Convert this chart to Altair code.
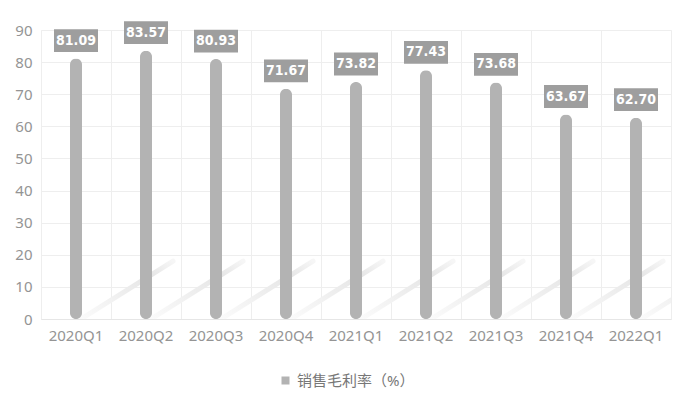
import altair as alt
import pandas as pd

quarters = ["2020Q1", "2020Q2", "2020Q3", "2020Q4", "2021Q1", "2021Q2", "2021Q3", "2021Q4", "2022Q1"]
margins = [81.09, 83.57, 80.93, 71.67, 73.82, 77.43, 73.68, 63.67, 62.70]
series_name = "销售毛利率（%）"
y_ticks = [0, 10, 20, 30, 40, 50, 60, 70, 80, 90]
shadow_top = 18

df = pd.DataFrame({
    "q": quarters,
    "v": margins,
    "label": [f"{m:.2f}" for m in margins],
    "s": [series_name] * len(quarters),
    "z": [0] * len(quarters),
    "st": [shadow_top] * len(quarters),
})

FONT = "Noto Sans, Noto Sans CJK SC"
x_enc = alt.X("q:N", sort=quarters, title=None,
              scale=alt.Scale(paddingInner=0, paddingOuter=0),
              axis=alt.Axis(labelAngle=0, labelColor="#949494", labelFontSize=15, labelFont=FONT,
                            labelPadding=9, ticks=False, domainColor="#e6e6e6",
                            grid=True, gridColor="#eeeeee", bandPosition=0))
y_scale = alt.Scale(domain=[0, 90], nice=False)
y_axis = alt.Axis(values=y_ticks, labelColor="#949494", labelFontSize=15, labelFont=FONT,
                  labelPadding=9, ticks=False, domain=False, labelOverlap=False,
                  grid=True, gridColor="#eeeeee")
y_enc = alt.Y("v:Q", title=None, scale=y_scale, axis=y_axis)

base = alt.Chart(df)

shadow = base.mark_rule(
    strokeWidth=5, strokeCap="round", clip=True, xOffset=5, x2Offset=97,
    stroke=alt.Gradient(gradient="linear", x1=0, y1=1, x2=1, y2=0,
                        stops=[alt.GradientStop(offset=0, color="#fbfbfb"),
                               alt.GradientStop(offset=0.75, color="#e6e6e6"),
                               alt.GradientStop(offset=1, color="#f6f6f6")]),
).encode(
    x=x_enc, x2="q:N",
    y=alt.Y("z:Q", title=None, scale=y_scale, axis=y_axis), y2="st:Q",
)

bars = base.mark_bar(size=12, cornerRadius=6).encode(
    x=x_enc, y=y_enc,
    color=alt.Color("s:N", title=None, scale=alt.Scale(range=["#b3b3b3"]),
                    legend=alt.Legend(orient="none", legendX=237, legendY=343,
                                      symbolType="square", symbolSize=64, symbolStrokeWidth=0,
                                      labelFontSize=15, labelFont=FONT, labelColor="#777777")),
)

box_shape = "M-1,-0.52L1,-0.52L1,0.52L-1,0.52Z"
boxes = base.mark_point(shape=box_shape, size=1936, filled=True, color="#9e9e9e",
                        opacity=1, yOffset=-18).encode(x=x_enc, y=y_enc)

texts = base.mark_text(font="DejaVu Sans Condensed", fontWeight="bold", fontSize=14,
                       color="white", yOffset=-18, baseline="middle").encode(
    x=x_enc, y=y_enc, text="label:N")

chart = alt.layer(shadow, bars, boxes, texts).properties(
    width=630, height=289,
    autosize=alt.AutoSizeParams(type="none"),
    padding={"left": 41, "top": 30, "right": 20, "bottom": 77},
).configure_view(stroke="#eeeeee")

chart.save("out.html", embed_options={"renderer": "svg", "actions": False})
